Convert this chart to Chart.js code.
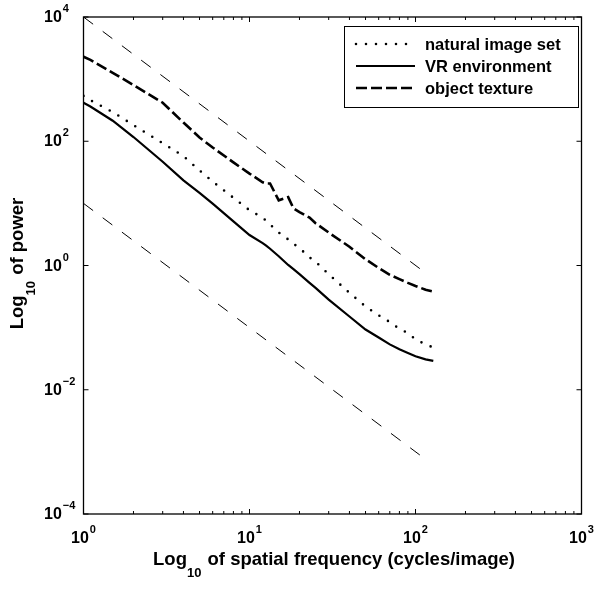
<!DOCTYPE html>
<html>
<head>
<meta charset="utf-8">
<script src="https://cdn.jsdelivr.net/npm/chart.js@4/dist/chart.umd.min.js"></script>
<style>
  html, body { margin: 0; padding: 0; background: #fff; }
  #wrap { width: 601px; height: 590px; }
</style>
</head>
<body>
<div id="wrap"><canvas id="spectrum" width="601" height="590"></canvas></div>
<script>
// valores (frecuencia en ciclos/imagen, potencia)
const freq = [1, 1.1, 1.5, 2, 3, 4, 5, 6, 8, 10, 12, 12.6, 13.3, 15, 17.1, 18.4, 20, 23, 25, 30, 40, 50, 60, 70, 80, 90, 100, 115, 128];
const naturalPower = [537, 457, 295, 182, 93.3, 57.5, 33.9, 22.4, 12.3, 7.76, 5.89, 5.25, 4.57, 3.39, 2.63, 2.24, 1.91, 1.35, 1.15, 0.724, 0.363, 0.219, 0.158, 0.123, 0.0955, 0.0820, 0.0646, 0.0537, 0.0479];
const vrPower = [417, 363, 214, 117, 46.8, 23.4, 14.8, 9.9, 5.13, 3.09, 2.29, 2.09, 1.86, 1.41, 1.02, 0.871, 0.724, 0.525, 0.437, 0.282, 0.151, 0.0933, 0.0692, 0.0537, 0.0447, 0.0392, 0.0347, 0.0309, 0.0292];
const texturePower = [2290, 2040, 1260, 804, 417, 200, 115, 79.4, 45.7, 30.2, 21.9, 20.9, 20.9, 11.2, 12.6, 8.32, 7.24, 5.89, 4.79, 3.39, 2.0, 1.26, 0.912, 0.708, 0.603, 0.525, 0.468, 0.407, 0.380];

// rectas de referencia (pendiente -2)
const refFreq = [1, 110];
const refUpper = [10000, 0.83];
const refLower = [10, 0.00083];

const seriesLabels = ['natural image set', 'VR environment', 'object texture'];
const xTickExp = [0, 1, 2, 3];
const yTickExp = [-4, -2, 0, 2, 4];

const FONT = '"Liberation Sans", Arial, Helvetica, sans-serif';

const pts = (xs, ys) => xs.map((x, i) => ({ x: x, y: ys[i] }));

const datasets = [
  { label: seriesLabels[0], data: pts(freq, naturalPower), borderColor: '#000', borderWidth: 2.6,
    borderDash: [0, 10], borderCapStyle: 'round' },
  { label: seriesLabels[1], data: pts(freq, vrPower), borderColor: '#000', borderWidth: 2.2 },
  { label: seriesLabels[2], data: pts(freq, texturePower), borderColor: '#000', borderWidth: 2.6,
    borderDash: [11, 4] },
  { label: 'ref1', data: pts(refFreq, refUpper), borderColor: '#000', borderWidth: 1, borderDash: [12, 12] },
  { label: 'ref2', data: pts(refFreq, refLower), borderColor: '#000', borderWidth: 1, borderDash: [12, 12] }
];
datasets.forEach(d => { d.showLine = true; d.pointRadius = 0; d.fill = false; d.tension = 0; });

// dibuja "10" con exponente
function drawPow(ctx, exp, x, y, align) {
  const base = 'bold 16px ' + FONT, sup = 'bold 11px ' + FONT;
  const e = exp < 0 ? '\u2212' + (-exp) : String(exp);
  ctx.font = base;
  const wb = ctx.measureText('10').width;
  ctx.font = sup;
  const we = ctx.measureText(e).width;
  const left = align === 'center' ? x - (wb + we + 1) / 2 : x;
  ctx.textAlign = 'left';
  ctx.textBaseline = 'alphabetic';
  ctx.font = base;
  ctx.fillText('10', left, y);
  ctx.font = sup;
  ctx.fillText(e, left + wb + 1, y - 10);
}

// titulo con subindice "10"
function drawLogTitle(ctx, rest, cx, y) {
  const main = 'bold 18.5px ' + FONT, sub = 'bold 13px ' + FONT;
  ctx.font = main;
  const w1 = ctx.measureText('Log').width, w3 = ctx.measureText(rest).width;
  ctx.font = sub;
  const w2 = ctx.measureText('10').width;
  let x = cx - (w1 + w2 + w3 + 1) / 2;
  ctx.textAlign = 'left';
  ctx.textBaseline = 'alphabetic';
  ctx.font = main; ctx.fillText('Log', x, y); x += w1;
  ctx.font = sub; ctx.fillText('10', x, y + 12); x += w2 + 1;
  ctx.font = main; ctx.fillText(rest, x, y);
}

const matlabAxes = {
  id: 'matlabAxes',
  beforeDatasetsDraw(chart) {
    const ctx = chart.ctx, a = chart.chartArea;
    const xs = chart.scales.x, ys = chart.scales.y;
    ctx.save();
    ctx.strokeStyle = '#000';
    ctx.lineWidth = 1.3;
    ctx.strokeRect(a.left, a.top, a.right - a.left, a.bottom - a.top);
    ctx.lineWidth = 1;
    ctx.beginPath();
    // marcas del eje x (mayores y menores), hacia dentro, abajo y arriba
    for (let d = 0; d < 3; d++) {
      for (let m = 1; m <= 10; m++) {
        const px = xs.getPixelForValue(m * Math.pow(10, d));
        const len = (m === 1 || m === 10) ? 5 : 3;
        ctx.moveTo(px, a.bottom); ctx.lineTo(px, a.bottom - len);
        ctx.moveTo(px, a.top); ctx.lineTo(px, a.top + len);
      }
    }
    yTickExp.forEach(e => {
      const py = ys.getPixelForValue(Math.pow(10, e));
      ctx.moveTo(a.left, py); ctx.lineTo(a.left + 5, py);
      ctx.moveTo(a.right, py); ctx.lineTo(a.right - 5, py);
    });
    ctx.stroke();
    ctx.restore();
  },
  afterDraw(chart) {
    const ctx = chart.ctx, a = chart.chartArea;
    const xs = chart.scales.x, ys = chart.scales.y;
    ctx.save();
    ctx.fillStyle = '#000';
    xTickExp.forEach(e => drawPow(ctx, e, xs.getPixelForValue(Math.pow(10, e)), a.bottom + 29, 'center'));
    yTickExp.forEach(e => drawPow(ctx, e, 44, ys.getPixelForValue(Math.pow(10, e)) + 5, 'left'));

    drawLogTitle(ctx, ' of spatial frequency (cycles/image)', 334, 565);
    ctx.save();
    ctx.translate(23, (a.top + a.bottom) / 2 - 2);
    ctx.rotate(-Math.PI / 2);
    drawLogTitle(ctx, ' of power', 0, 0);
    ctx.restore();

    // leyenda
    const bx = 344.5, by = 26.5, bw = 234, bh = 81;
    ctx.fillStyle = '#fff';
    ctx.fillRect(bx, by, bw, bh);
    ctx.strokeStyle = '#000';
    ctx.lineWidth = 1;
    ctx.strokeRect(bx, by, bw, bh);
    const rows = [44, 66, 88];
    [0, 1, 2].forEach(i => {
      const ds = chart.data.datasets[i];
      ctx.save();
      ctx.strokeStyle = ds.borderColor;
      ctx.lineWidth = ds.borderWidth;
      ctx.setLineDash(ds.borderDash || []);
      ctx.lineCap = ds.borderCapStyle || 'butt';
      ctx.beginPath();
      ctx.moveTo(356, rows[i]);
      ctx.lineTo(415, rows[i]);
      ctx.stroke();
      ctx.restore();
      ctx.fillStyle = '#000';
      ctx.font = 'bold 16.5px ' + FONT;
      ctx.textAlign = 'left';
      ctx.textBaseline = 'alphabetic';
      ctx.fillText(ds.label, 425, rows[i] + 6);
    });
    ctx.restore();
  }
};

new Chart(document.getElementById('spectrum').getContext('2d'), {
  type: 'scatter',
  data: { datasets: datasets },
  options: {
    responsive: false,
    animation: false,
    devicePixelRatio: 1,
    layout: { padding: { left: 83.5, right: 19.5, top: 17, bottom: 76 } },
    scales: {
      x: { type: 'logarithmic', min: 1, max: 1000, display: false },
      y: { type: 'logarithmic', min: 1e-4, max: 1e4, display: false }
    },
    plugins: { legend: { display: false }, tooltip: { enabled: false } }
  },
  plugins: [matlabAxes]
});
</script>
</body>
</html>
